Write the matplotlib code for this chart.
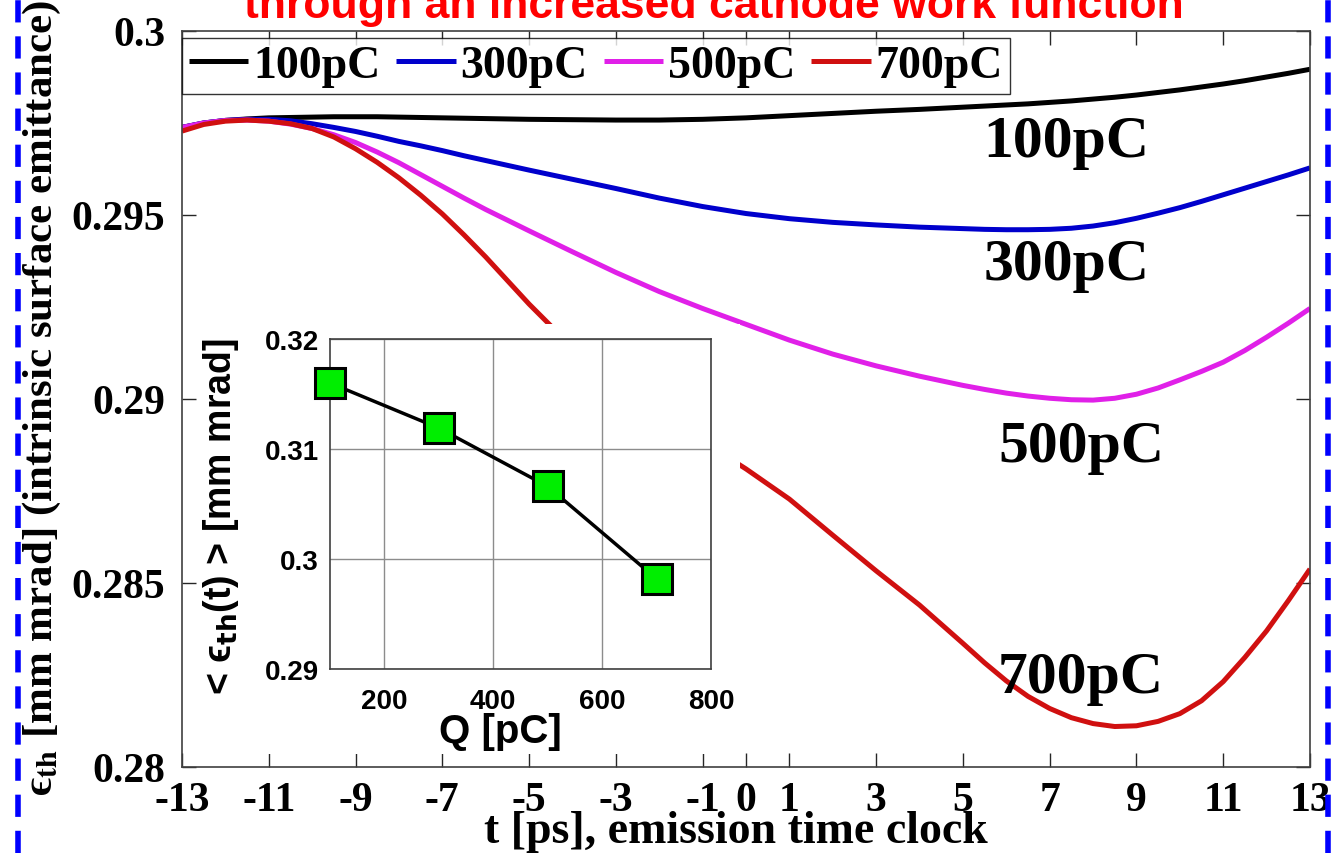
import matplotlib
matplotlib.use("Agg")
import matplotlib.pyplot as plt
from matplotlib.patches import Rectangle
from matplotlib.lines import Line2D

plt.rcParams['lines.scale_dashes'] = False

# emission time clock [ps]
t_ps = [-13, -12.5, -12, -11.5, -11, -10.5, -10, -9.5, -9, -8.5, -8, -7.5, -7, -6.5, -6, -5.5, -5,
        -4, -3, -2, -1, 0, 1, 2, 3, 4, 5, 5.5, 6, 6.5, 7, 7.5, 8, 8.5, 9, 9.5, 10, 10.5, 11, 11.5,
        12, 12.5, 13]

eps_100 = [0.29738, 0.29750, 0.29757, 0.29761, 0.29764, 0.29765, 0.29766, 0.29767, 0.29767, 0.29767,
           0.29766, 0.29765, 0.29764, 0.29763, 0.29762, 0.29761, 0.29760, 0.29759, 0.29758, 0.29758,
           0.29760, 0.29764, 0.29770, 0.29776, 0.29782, 0.29787, 0.29793, 0.29796, 0.29799, 0.29802,
           0.29806, 0.29810, 0.29815, 0.29820, 0.29826, 0.29833, 0.29840, 0.29848, 0.29856, 0.29865,
           0.29875, 0.29885, 0.29896]
eps_300 = [0.29738, 0.29750, 0.29757, 0.29760, 0.29760, 0.29756, 0.29748, 0.29738, 0.29727, 0.29714,
           0.29700, 0.29688, 0.29675, 0.29661, 0.29648, 0.29635, 0.29622, 0.29597, 0.29572, 0.29546,
           0.29523, 0.29504, 0.29490, 0.29480, 0.29473, 0.29467, 0.29463, 0.29461, 0.29460, 0.29460,
           0.29461, 0.29464, 0.29470, 0.29479, 0.29491, 0.29505, 0.29520, 0.29537, 0.29555, 0.29573,
           0.29591, 0.29609, 0.29628]
eps_500 = [0.29738, 0.29750, 0.29757, 0.29758, 0.29755, 0.29747, 0.29735, 0.29718, 0.29697, 0.29671,
           0.29642, 0.29610, 0.29578, 0.29546, 0.29515, 0.29486, 0.29457, 0.29400, 0.29344, 0.29292,
           0.29246, 0.29203, 0.29160, 0.29122, 0.29090, 0.29062, 0.29037, 0.29026, 0.29016, 0.29008,
           0.29002, 0.28998, 0.28997, 0.29002, 0.29013, 0.29030, 0.29052, 0.29075, 0.29100, 0.29132,
           0.29168, 0.29206, 0.29246]
eps_700 = [0.29728, 0.29746, 0.29755, 0.29758, 0.29755, 0.29748, 0.29735, 0.29712, 0.29680, 0.29643,
           0.29601, 0.29554, 0.29503, 0.29446, 0.29386, 0.29322, 0.29258, 0.29140, 0.29040, 0.28960,
           0.28885, 0.28810, 0.28728, 0.28630, 0.28533, 0.28440, 0.28336, 0.28283, 0.28234, 0.28192,
           0.28159, 0.28134, 0.28118, 0.28110, 0.28112, 0.28124, 0.28145, 0.28180, 0.28232, 0.28298,
           0.28370, 0.28452, 0.28538]

series = [("100pC", eps_100, "#000000"), ("300pC", eps_300, "#0000cc"),
          ("500pC", eps_500, "#e020e8"), ("700pC", eps_700, "#d01010")]

xticks_main = [-13, -11, -9, -7, -5, -3, -1, 0, 1, 3, 5, 7, 9, 11, 13]
yticks_main = [0.28, 0.285, 0.29, 0.295, 0.3]
ytick_labels = ["0.28", "0.285", "0.29", "0.295", "0.3"]

# inset: time-averaged emittance vs bunch charge
charge_pC = [100, 300, 500, 700]
eps_mean = [0.3160, 0.3119, 0.3066, 0.2982]

W, H = 1335, 854
fig = plt.figure(figsize=(W / 100, H / 100), dpi=100)
serif = ["Liberation Serif", "DejaVu Serif"]
sans = ["Liberation Sans", "DejaVu Sans"]

ax = fig.add_axes([182 / W, 1 - 768 / H, (1310 - 182) / W, (768 - 32) / H], zorder=0)
for name, vals, col in series:
    ax.plot(t_ps, vals, color=col, lw=3.6, label=name, solid_capstyle="butt",
            solid_joinstyle="round")
ax.set_xlim(-13, 13)
ax.set_ylim(0.28, 0.3)
ax.set_xticks(xticks_main)
ax.set_xticklabels([str(v) for v in xticks_main])
ax.set_yticks(yticks_main)
ax.set_yticklabels(ytick_labels)
ax.tick_params(direction="in", length=10, width=1, top=True, right=True,
               colors="#262626", labelcolor="black")
ax.tick_params(axis="x", pad=10)
ax.tick_params(axis="y", pad=12)
for lab in ax.get_xticklabels() + ax.get_yticklabels():
    lab.set_family(serif)
    lab.set_weight("bold")
    lab.set_size(30)
for sp in ax.spines.values():
    sp.set_color("#404040")
    sp.set_linewidth(1.2)

leg = ax.legend(loc="upper left", bbox_to_anchor=(0.0, 0.99), ncol=4, frameon=True,
                fancybox=False, edgecolor="black", handlelength=1.3, handletextpad=0.1,
                columnspacing=0.35, borderpad=0.15, borderaxespad=0.0,
                prop={"family": serif, "weight": "bold", "size": 33})
leg.get_frame().set_linewidth(1.0)

label_pos = [("100pC", 7.38, 0.29660), ("300pC", 7.38, 0.29326),
             ("500pC", 7.72, 0.28832), ("700pC", 7.72, 0.28204)]
for txt, tx, ty in label_pos:
    ax.text(tx, ty, txt, ha="center", va="baseline", family=serif,
            weight="bold", size=43, zorder=5)

# white panel behind the inset
fig.patches.append(Rectangle((205 / W, 1 - 755 / H), 535 / W, 430 / H,
                             transform=fig.transFigure, facecolor="white",
                             edgecolor="none", zorder=1))

axi = fig.add_axes([330 / W, 1 - 670 / H, 381 / W, 330 / H], zorder=2)
axi.plot(charge_pC, eps_mean, color="black", lw=2.5, marker="s", markersize=21,
         markerfacecolor="#00ee00", markeredgecolor="black", markeredgewidth=2.2,
         clip_on=False, zorder=3)
axi.set_xlim(100, 800)
axi.set_ylim(0.29, 0.32)
axi.set_xticks([200, 400, 600, 800])
axi.set_yticks([0.29, 0.30, 0.31, 0.32])
axi.set_yticklabels(["0.29", "0.3", "0.31", "0.32"])
axi.grid(True, color="#8c8c8c", lw=1)
axi.tick_params(length=0)
axi.tick_params(axis="x", pad=14)
axi.tick_params(axis="y", pad=8)
for lab in axi.get_xticklabels() + axi.get_yticklabels():
    lab.set_family(sans)
    lab.set_weight("bold")
    lab.set_size(20)
for sp in axi.spines.values():
    sp.set_color("#404040")
    sp.set_linewidth(1.2)
axi.set_xlabel("Q [pC]", family=sans, weight="bold", size=29)
axi.xaxis.set_label_coords((500 - 330) / 381, (670 - 713) / 330)
axi.set_ylabel("< ϵ$_{\\mathbf{th}}$(t) > [mm mrad]", family=sans, weight="bold",
               size=27, math_fontfamily="dejavusans")
axi.yaxis.set_label_coords((241 - 330) / 381, (670 - 517) / 330)

# axis titles of the main panel
fig.text(736 / W, 1 - 832 / H, "t [ps], emission time clock", ha="center", va="center",
         family=serif, weight="bold", size=33)
fig.text(42 / W, 1 - 398 / H, "ϵ$_{\\mathbf{th}}$ [mm mrad] (intrinsic surface emittance)",
         rotation=90, ha="center", va="center", family=serif, weight="bold", size=31,
         math_fontfamily="stix")

# clipped slide title
fig.text(714 / W, 1 - 18 / H, "through an increased cathode work function", ha="center",
         va="baseline", color="#ff0000", family=sans, weight="bold", size=32)

# slide frame dashes
for xp in (18, 1328):
    fig.lines.append(Line2D([xp / W, xp / W], [0, 1], transform=fig.transFigure,
                            color="#0000ff", lw=4, dashes=(16, 10)))

fig.savefig("out.png", dpi=100)
